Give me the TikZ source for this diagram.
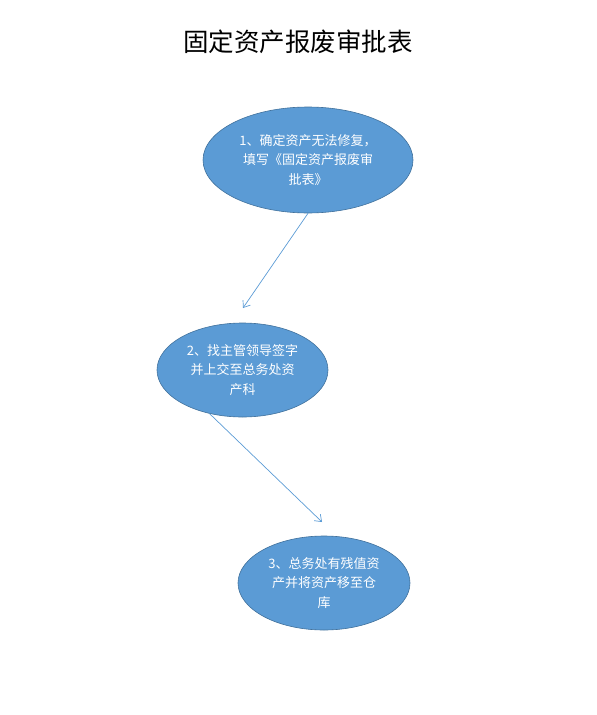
\documentclass[tikz,border=0pt]{standalone}
\usepackage{fontspec}
\setmainfont{Noto Sans CJK SC}
\usetikzlibrary{arrows.meta, shapes.geometric}

\definecolor{stepfill}{HTML}{5B9BD5}
\definecolor{stepline}{HTML}{41719C}
\tikzstyle{stepnode}=[ellipse, fill=stepfill, draw=stepline, line width=0.6pt, text=white, align=center, font=\fontsize{13}{19.5}\selectfont, inner sep=0pt]
\tikzstyle{edge} = [draw, stepfill, line width=0.7pt, -{Straight Barb[length=6pt,width=9pt]}]

\begin{document}
\begin{tikzpicture}[x=1pt, y=-1pt]
	    \useasboundingbox (0,0) rectangle (597,715);
	    \node (title) at (298,42) {\fontsize{25.5}{30}\selectfont 固定资产报废审批表};
	    \foreach \pos/\name/\w/\h/\txt in {{(308,160)/e1/210/106/{1、确定资产无法修复，\\填写《固定资产报废审\\批表》}}, {(242.5,370)/e2/171/94/{2、找主管领导签字\\并上交至总务处资\\产科}}, {(324,583)/e3/172/94/{3、总务处有残值资\\产并将资产移至仓\\库}}}
	        \node[stepnode, minimum width=\w pt, minimum height=\h pt] (\name) at \pos {\txt};
	    \coordinate (end1) at (243,308);
	    \coordinate (end2) at (322,522);
	    \foreach \source/ \dest in {e1.south/end1, e2.-127/end2}
			\path[edge] (\source) -- (\dest);
	\end{tikzpicture}
\end{document}
